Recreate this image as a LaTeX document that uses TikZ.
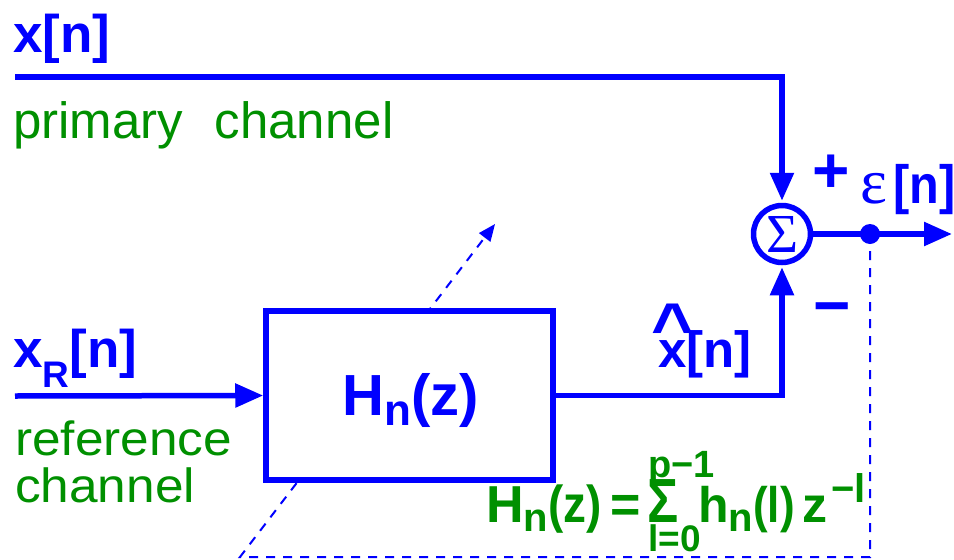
\documentclass[tikz,border=0pt]{standalone}
\usepackage{fontspec}
\setmainfont{Liberation Sans}
\newfontfamily\serifsym{Liberation Serif}
\usetikzlibrary{arrows.meta,backgrounds}
\definecolor{myblue}{RGB}{0,0,255}
\definecolor{mygreen}{RGB}{0,144,0}
\newcommand{\fsz}[1]{\fontsize{#1pt}{#1pt}\selectfont}
\tikzset{
  sig/.style={draw=myblue, line width=5.5pt},
  bigarrow/.style={-{Triangle[length=28pt,width=23pt]}},
  dsh/.style={draw=myblue, line width=2pt, dash pattern=on 9pt off 8pt},
  lbl/.style={inner sep=0pt, anchor=base west},
  blbl/.style={lbl, text=myblue, font=\bfseries},
  glbl/.style={lbl, text=mygreen},
  gblbl/.style={lbl, text=mygreen, font=\bfseries},
}
\begin{document}
\begin{tikzpicture}[x=1pt,y=-1pt]
\useasboundingbox (0,0) rectangle (954,560);

% coordinates for free ends
\coordinate (pStart) at (15,77);
\coordinate (rStart) at (15,396);
\coordinate (outEnd) at (952,234);
\coordinate (brC) at (870,557);
\coordinate (blC) at (240,557);
\coordinate (adTip) at (495,224);

% blocks
\node[sig, fill=white, minimum width=287pt, minimum height=169pt, inner sep=0pt] (box) at (409.5,395.5) {};
\node[sig, circle, minimum size=57pt, inner sep=0pt, text=myblue, font=\serifsym\fsz{55}] (sum) at (782,234) {Σ};
\node[circle, fill=myblue, minimum size=20pt, inner sep=0pt] (dot) at (870,234) {};

% feedback / adaptation (behind box)
\begin{pgfonlayer}{background}
\fill[white] (0,0) rectangle (954,560);
\draw[dsh, -{Triangle[length=17pt,width=14pt]}] (dot.center) -- (brC) -- (blC) -- (adTip);
\end{pgfonlayer}

% signal connectors
\draw[sig, bigarrow, shorten >=2pt] (pStart) -| (sum.north);
\draw[sig, bigarrow] (rStart) -- (box.west);
\draw[sig, bigarrow, shorten >=2pt] (box.east) -| (sum.south);
\draw[sig, bigarrow] (sum.east) -- (outEnd);

% labels
\node[blbl, font=\bfseries\fsz{53}] (xn) at (13,52) {x[n]};
\node[glbl, font=\fsz{51}] (prim) at (13,138) {primary\hspace{0.62em}channel};
\node[blbl, font=\bfseries\fsz{53}] (xr) at (13,367) {x\raisebox{-20pt}{\fsz{37}R}[n]};
\node[glbl, font=\fsz{48}] (ref) at (15,455) {\scalebox{1.07}[1]{reference}};
\node[glbl, font=\fsz{48}] (chan) at (15,502) {\scalebox{1.07}[1]{channel}};
\node[inner sep=0pt, anchor=base, text=myblue, font=\bfseries\fsz{58}] (hn) at (411,415) {H\raisebox{-10pt}{\fsz{44}n}(z)};
\node[blbl, font=\bfseries\fsz{51}] (xh) at (658,367) {\setbox0\hbox{x}\makebox[0pt][l]{\makebox[\wd0][c]{\raisebox{17pt}{\fsz{52}\scalebox{1.4}[1.3]{\textasciicircum}}}}x[n]};
\node[inner sep=0pt, anchor=base, text=myblue, font=\bfseries\fsz{64}] (plus) at (831,192) {+};
\node[inner sep=0pt, anchor=base, text=myblue, font=\bfseries\fsz{64}] (minus) at (832,327) {−};
\node[lbl, text=myblue, font=\serifsym\fsz{64}] (eps) at (860,203) {ε};
\node[blbl, font=\bfseries\fsz{54}] (epsn) at (893,203) {\scalebox{0.9}[1]{[n]}};

% formula
\node[gblbl, font=\bfseries\fsz{52}] (fH) at (486,522) {H\raisebox{-9pt}{\fsz{40}n}\scalebox{0.88}[1]{(z)}};
\node[gblbl, font=\bfseries\fsz{52}] (feq) at (610,522) {=};
\node[gblbl, font=\bfseries\fsz{52}] (fsum) at (647,522) {\makebox[0pt][l]{\hspace{1pt}\raisebox{45pt}{\fsz{38}p−1}}\makebox[0pt][l]{\hspace{1pt}\raisebox{-29pt}{\fsz{37}l=0}}\scalebox{1}[1.2]{Σ}};
\node[gblbl, font=\bfseries\fsz{50}] (fh) at (698,522) {h\raisebox{-9pt}{\fsz{40}n}\scalebox{0.88}[1]{(l)}};
\node[gblbl, font=\bfseries\fsz{50}] (fz) at (802,522) {z};
\node[gblbl, font=\bfseries\fsz{40}] (fexp) at (831,502) {−l};
\end{tikzpicture}
\end{document}
